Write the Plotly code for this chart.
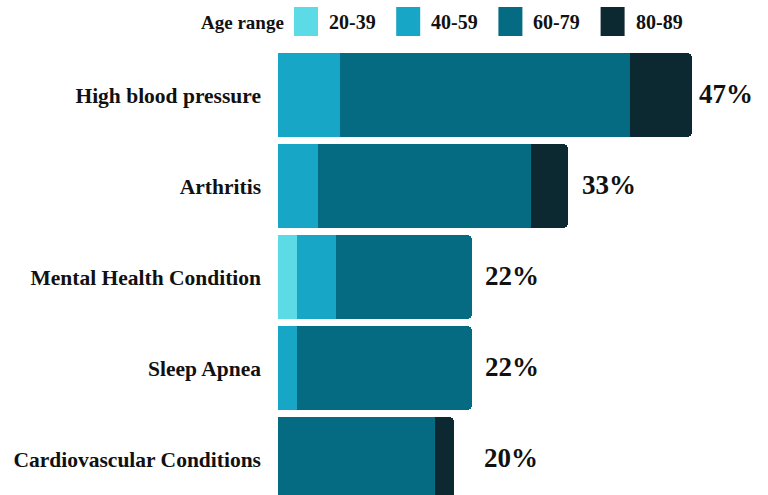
import plotly.graph_objects as go

# Conditions (top to bottom) and share of respondents per age range, in %
conditions = [
    "High blood pressure",
    "Arthritis",
    "Mental Health Condition",
    "Sleep Apnea",
    "Cardiovascular Conditions",
]
age_ranges = ["20-39", "40-59", "60-79", "80-89"]
share_20_39 = [0.0, 0.0, 2.2, 0.0, 0.0]
share_40_59 = [7.0, 4.5, 4.4, 2.2, 0.0]
share_60_79 = [33.0, 24.3, 15.4, 19.8, 17.8]
share_80_89 = [7.0, 4.2, 0.0, 0.0, 2.2]
totals = [47, 33, 22, 22, 20]
total_labels = ["47%", "33%", "22%", "22%", "20%"]

colors = ["#5cdae6", "#17a6c5", "#046b82", "#0c2830"]
series = [share_20_39, share_40_59, share_60_79, share_80_89]

SERIF = "Liberation Serif"

W, H = 768, 495
ML, MR, MT, MB = 278, 0, 50, 0
PX_PER_UNIT = 8.8        # horizontal pixels per percentage point
ROW_PX = 91              # vertical pixels per category row
FIRST_ROW_PX = 95        # pixel y of the first row centre

plot_w = W - ML - MR
plot_h = H - MT - MB

fig = go.Figure()
for name, vals, col in zip(age_ranges, series, colors):
    fig.add_trace(go.Bar(
        y=conditions, x=vals, name=name, orientation="h",
        marker=dict(color=col, line=dict(width=0)),
        width=0.92, showlegend=False, hoverinfo="skip",
    ))

# Total percentage next to each bar
label_shift = [5, 12, 11, 11, 28]
annotations = []
for cond, tot, txt, dx in zip(conditions, totals, total_labels, label_shift):
    annotations.append(dict(
        x=tot, y=cond, xref="x", yref="y", text=txt, showarrow=False,
        xanchor="left", yanchor="middle", xshift=dx, yshift=1,
        font=dict(family=SERIF, size=27, color="#111111", weight="bold"),
    ))

# Legend row along the top
def px_to_paper_x(px):
    return (px - ML) / plot_w

def px_to_paper_y(py):
    return (H - MB - py) / plot_h

shapes = []
annotations.append(dict(
    x=px_to_paper_x(286), y=px_to_paper_y(22), xref="paper", yref="paper",
    text="Age range", showarrow=False, xanchor="right", yanchor="middle",
    font=dict(family=SERIF, size=19, color="#111111", weight="bold"),
))
for i, (name, col) in enumerate(zip(age_ranges, colors)):
    x0 = 294 + i * 102.2
    shapes.append(dict(
        type="rect", xref="paper", yref="paper",
        x0=px_to_paper_x(x0), x1=px_to_paper_x(x0 + 24),
        y0=px_to_paper_y(36), y1=px_to_paper_y(7),
        fillcolor=col, line=dict(width=0),
    ))
    annotations.append(dict(
        x=px_to_paper_x(x0 + 33), y=px_to_paper_y(22), xref="paper", yref="paper",
        text=name, showarrow=False, xanchor="left", yanchor="middle",
        font=dict(family=SERIF, size=20, color="#111111", weight="bold"),
    ))

top_offset = (FIRST_ROW_PX - MT) / ROW_PX
y_top = -top_offset
y_bottom = y_top + plot_h / ROW_PX

fig.update_layout(
    width=W, height=H,
    margin=dict(l=ML, r=MR, t=MT, b=MB, pad=0),
    barmode="stack", bargap=0, barcornerradius=5,
    plot_bgcolor="white", paper_bgcolor="white",
    xaxis=dict(visible=False, range=[0, plot_w / PX_PER_UNIT]),
    yaxis=dict(
        type="category", categoryorder="array", categoryarray=conditions,
        range=[y_bottom, y_top], showgrid=False, showline=False, zeroline=False,
        ticks="", ticklabelstandoff=16,
        tickfont=dict(family=SERIF, size=21.5, color="#111111", weight="bold"),
    ),
    annotations=annotations, shapes=shapes,
    showlegend=False,
)

fig.write_html("out.html")
